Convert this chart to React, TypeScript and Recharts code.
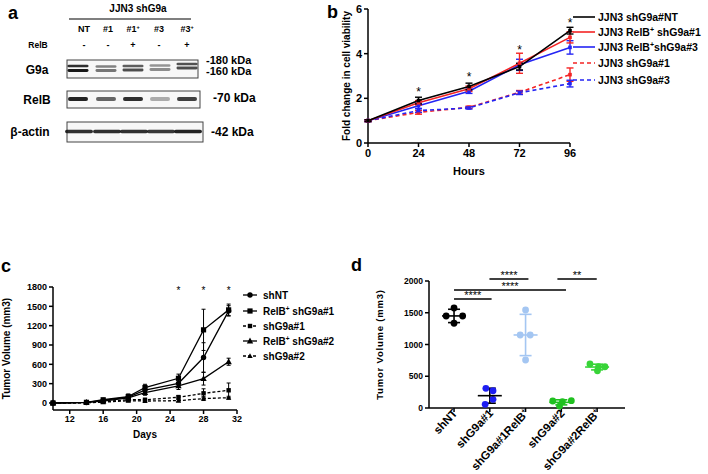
import React from 'react';
import { ComposedChart, Line, Scatter, XAxis, YAxis, ErrorBar, Legend, ReferenceLine, Label } from 'recharts';

const FONT = '"Liberation Sans", Arial, Helvetica, sans-serif';
const W = 708;
const H = 474;

// ---------------- Panel b : cell viability ----------------
const bHours = [0, 24, 48, 72, 96];
const bNT = [1, 1.9, 2.53, 3.42, 5.03];
const bNTErr = [0.04, 0.15, 0.15, 0.15, 0.15];
const bRelB1 = [1, 1.8, 2.43, 3.57, 4.73];
const bRelB1Err = [0.04, 0.1, 0.12, 0.45, 0.25];
const bRelB3 = [1, 1.67, 2.32, 3.5, 4.28];
const bRelB3Err = [0.04, 0.12, 0.1, 0.25, 0.3];
const bSh1 = [1, 1.37, 1.6, 2.27, 3.06];
const bSh1Err = [0.04, 0.08, 0.05, 0.08, 0.3];
const bSh3 = [1, 1.45, 1.57, 2.25, 2.66];
const bSh3Err = [0.04, 0.08, 0.05, 0.08, 0.15];
const bStarHours = [24, 48, 72, 96];
const bStarY = [2.4, 3.09, 4.31, 5.48];
const bXTicks = [0, 24, 48, 72, 96];
const bYTicks = [0, 2, 4, 6];
const bLabels = ['JJN3 shG9a#NT', 'JJN3 RelB+ shG9a#1', 'JJN3 RelB+shG9a#3', 'JJN3 shG9a#1', 'JJN3 shG9a#3'];
const bColors = ['#000000', '#f42424', '#2424f4', '#f42424', '#2424f4'];
const bDashed = [false, false, false, true, true];

// ---------------- Panel c : tumour growth ----------------
const cDays = [10, 14, 16, 19, 21, 25, 28, 31];
const cShNT = [0, 8, 40, 90, 200, 305, 705, 1430];
const cShNTErr = [0, 5, 15, 30, 45, 55, 230, 80];
const cRelB1 = [0, 10, 50, 100, 240, 383, 1135, 1445];
const cRelB1Err = [0, 5, 15, 40, 50, 65, 320, 90];
const cSh1 = [0, 5, 18, 50, 50, 88, 150, 197];
const cSh1Err = [0, 3, 8, 20, 20, 30, 70, 113];
const cRelB2 = [0, 8, 30, 80, 160, 264, 378, 640];
const cRelB2Err = [0, 5, 10, 30, 40, 55, 100, 55];
const cSh2 = [0, 4, 12, 35, 30, 36, 68, 82];
const cSh2Err = [0, 3, 6, 15, 15, 15, 30, 22];
const cStarDays = [25, 28, 31];
const cStarY = [1780, 1780, 1780];
const cXTicks = [12, 16, 20, 24, 28, 32];
const cYTicks = [0, 300, 600, 900, 1200, 1500, 1800];
const cLabels = ['shNT', 'RelB+ shG9a#1', 'shG9a#1', 'RelB+ shG9a#2', 'shG9a#2'];
const cMarkers = ['circle', 'square', 'smallSquare', 'triangle', 'smallTriangle'];
const cDashed = [false, false, true, false, true];

// ---------------- Panel d : final tumour volume ----------------
const dCats = ['shNT', 'shG9a#1', 'shG9a#1RelB+', 'shG9a#2', 'shG9a#2RelB+'];
const dColors = ['#000000', '#1e1ef2', '#a4c6f2', '#20c020', '#38d438'];
const dMeanColors = ['#000000', '#000000', '#a4c6f2', '#20c020', '#38d438'];
const dValues = [
  [1575, 1449, 1449, 1335],
  [310, 272, 137, 58],
  [1543, 1150, 1150, 756],
  [110, 100, 115, 31],
  [693, 650, 587, 650],
];
const dJitter = [
  [0, -0.22, 0.24, 0],
  [-0.11, 0.09, 0.09, -0.13],
  [0, -0.15, 0.13, 0],
  [-0.24, 0.03, 0.28, -0.05],
  [-0.2, 0.04, 0.01, 0.22],
];
const dMeans = [1450, 194, 1150, 89, 645];
const dSD = [105, 118, 325, 40, 45];
const dYTicks = [0, 500, 1000, 1500, 2000];
const dSigFrom = [1.0, 1.0, 1.99, 3.89];
const dSigTo = [2.05, 4.13, 3.08, 4.99];
const dSigY = [1717, 1858, 2031, 2031];
const dSigText = ['****', '****', '****', '**'];

// ---------------- Panel a : western blot (image) ----------------
const aLaneX = [78, 106, 133, 160, 187];
const aLaneLabelX = [84, 108, 133, 159, 187];
const aLaneLabels = ['NT', '#1', '#1+', '#3', '#3+'];
const aRelBSigns = ['-', '-', '+', '-', '+'];
const aG9aUpperY = [66, 66.5, 66, 65.5, 64];
const aG9aLowerY = [70.5, 70.5, 70, 69.5, 68];
const aG9aUpper = [0.85, 0.5, 0.65, 0.42, 0.7];
const aG9aLower = [0.95, 0.55, 0.72, 0.45, 0.72];
const aRelB = [0.9, 0.62, 0.85, 0.32, 0.78];
const aActin = [0.85, 0.85, 0.85, 0.82, 0.9];

function supParts(text: string, supSize: number, shift = 4) {
  const parts = text.split('+');
  const out: any[] = [<tspan key="p0">{parts[0]}</tspan>];
  for (let i = 1; i < parts.length; i++) {
    out.push(
      <tspan key={'s' + i} dy={-shift} fontSize={supSize}>
        +
      </tspan>
    );
    if (parts[i] !== '') {
      out.push(
        <tspan key={'p' + i} dy={shift}>
          {parts[i]}
        </tspan>
      );
    }
  }
  return out;
}

const axisStyle = { stroke: '#000', strokeWidth: 1.5 };

// ---------- markers ----------
function markerEl(kind: string, cx: number, cy: number, key?: any) {
  switch (kind) {
    case 'circle':
      return <circle key={key} cx={cx} cy={cy} r={2.7} fill="#000" />;
    case 'square':
      return <rect key={key} x={cx - 2.6} y={cy - 2.6} width={5.2} height={5.2} fill="#000" />;
    case 'smallSquare':
      return <rect key={key} x={cx - 2.2} y={cy - 2.2} width={4.4} height={4.4} fill="#000" />;
    case 'triangle':
      return <polygon key={key} points={`${cx},${cy - 3.4} ${cx - 3.2},${cy + 2.4} ${cx + 3.2},${cy + 2.4}`} fill="#000" />;
    default:
      return <polygon key={key} points={`${cx},${cy - 2.8} ${cx - 2.7},${cy + 2} ${cx + 2.7},${cy + 2}`} fill="#000" />;
  }
}

const cDot = (kind: string) => (props: any) => {
  const { cx, cy, index } = props;
  if (cx == null || cy == null) return <g key={index} />;
  return markerEl(kind, cx, cy, index);
};

const bDot = (color: string) => (props: any) => {
  const { cx, cy, index } = props;
  if (cx == null || cy == null) return <g key={index} />;
  return <rect key={index} x={cx - 1.8} y={cy - 1.8} width={3.6} height={3.6} fill={color} />;
};

const starShape = (fs: number) => (props: any) => (
  <text x={props.cx} y={props.cy + fs * 0.57} textAnchor="middle" fontSize={fs} fontFamily={FONT} fill="#000">
    *
  </text>
);

// ---------- legends ----------
const BLegend = () => (
  <svg width={140} height={84} style={{ overflow: 'visible' }}>
    {bLabels.map((lab, i) => {
      const y = 10 + [0, 15, 30, 46, 63][i];
      return (
        <g key={lab}>
          <line x1={3} x2={25} y1={y} y2={y} stroke={bColors[i]} strokeWidth={1.6} strokeDasharray={bDashed[i] ? '4 3' : undefined} />
          <text x={28} y={y + 3.7} fontSize={10.5} fontWeight="bold" fontFamily={FONT} fill="#000">
            {supParts(lab, 7, 4)}
          </text>
        </g>
      );
    })}
  </svg>
);

const CLegend = () => (
  <svg width={120} height={80} style={{ overflow: 'visible' }}>
    {cLabels.map((lab, i) => {
      const y = 8 + [0, 16, 31, 46, 61][i];
      return (
        <g key={lab}>
          <line x1={1} x2={15} y1={y} y2={y} stroke="#000" strokeWidth={1.3} strokeDasharray={cDashed[i] ? '3 2' : undefined} />
          {markerEl(cMarkers[i], 8, y)}
          <text x={21} y={y + 3.5} fontSize={10} fontWeight="bold" fontFamily={FONT} fill="#000">
            {supParts(lab, 6.5, 4)}
          </text>
        </g>
      );
    })}
  </svg>
);

// ---------- panel b ----------
const bData = bHours.map((h, i) => ({
  h,
  nt: bNT[i],
  ntE: bNTErr[i],
  r1: bRelB1[i],
  r1E: bRelB1Err[i],
  r3: bRelB3[i],
  r3E: bRelB3Err[i],
  s1: bSh1[i],
  s1E: bSh1Err[i],
  s3: bSh3[i],
  s3E: bSh3Err[i],
}));
const bStars = bStarHours.map((h, i) => ({ h, star: bStarY[i] }));

const tickB = { fill: '#000', fontSize: 11, fontWeight: 'bold', fontFamily: FONT } as any;

function PanelB() {
  return (
    <ComposedChart width={W} height={H} data={bData} margin={{ top: 9, right: 138, bottom: 297, left: 338 }}>
      <XAxis
        dataKey="h"
        type="number"
        domain={[0, 96]}
        ticks={bXTicks}
        axisLine={axisStyle}
        tickLine={axisStyle}
        tickSize={4}
        tick={tickB}
        height={34}
      >
        <Label value="Hours" position="insideBottom" offset={2} fontSize={11} fontWeight="bold" fontFamily={FONT} fill="#000" />
      </XAxis>
      <YAxis
        type="number"
        domain={[0, 6]}
        ticks={bYTicks}
        axisLine={axisStyle}
        tickLine={axisStyle}
        tickSize={4}
        tick={tickB}
        width={30}
      >
        <Label
          value="Fold change in cell viability"
          angle={-90}
          position="insideLeft"
          offset={8}
          fontSize={10}
          fontWeight="bold"
          fontFamily={FONT}
          fill="#000"
          style={{ textAnchor: 'middle' }}
        />
      </YAxis>
      <Line dataKey="s1" stroke={bColors[3]} strokeWidth={1.6} strokeDasharray="4 3" dot={bDot(bColors[3])} isAnimationActive={false}>
        <ErrorBar dataKey="s1E" width={3.5} stroke={bColors[3]} strokeWidth={1.4} direction="y" />
      </Line>
      <Line dataKey="s3" stroke={bColors[4]} strokeWidth={1.6} strokeDasharray="4 3" dot={bDot(bColors[4])} isAnimationActive={false}>
        <ErrorBar dataKey="s3E" width={3.5} stroke={bColors[4]} strokeWidth={1.4} direction="y" />
      </Line>
      <Line dataKey="r3" stroke={bColors[2]} strokeWidth={1.6} dot={bDot(bColors[2])} isAnimationActive={false}>
        <ErrorBar dataKey="r3E" width={3.5} stroke={bColors[2]} strokeWidth={1.4} direction="y" />
      </Line>
      <Line dataKey="r1" stroke={bColors[1]} strokeWidth={1.6} dot={bDot(bColors[1])} isAnimationActive={false}>
        <ErrorBar dataKey="r1E" width={3.5} stroke={bColors[1]} strokeWidth={1.4} direction="y" />
      </Line>
      <Line dataKey="nt" stroke={bColors[0]} strokeWidth={1.6} dot={bDot(bColors[0])} isAnimationActive={false}>
        <ErrorBar dataKey="ntE" width={3.5} stroke={bColors[0]} strokeWidth={1.4} direction="y" />
      </Line>
      <Scatter data={bStars} dataKey="star" shape={starShape(12)} isAnimationActive={false} />
      <Legend
        layout="horizontal"
        align="center"
        verticalAlign="middle"
        content={() => <BLegend />}
        wrapperStyle={{ left: 570, top: 7, width: 138, height: 84 }}
      />
    </ComposedChart>
  );
}

// ---------- panel c ----------
const cData = cDays.map((d, i) => ({
  d,
  nt: cShNT[i],
  ntE: cShNTErr[i],
  r1: cRelB1[i],
  r1E: cRelB1Err[i],
  s1: cSh1[i],
  s1E: cSh1Err[i],
  r2: cRelB2[i],
  r2E: cRelB2Err[i],
  s2: cSh2[i],
  s2E: cSh2Err[i],
}));
const cStars = cStarDays.map((d, i) => ({ d, star: cStarY[i] }));
const tickC = { fill: '#000', fontSize: 9, fontWeight: 'bold', fontFamily: FONT } as any;

function PanelC() {
  const series = [
    { k: 's2', e: 's2E', m: 'smallTriangle', dash: true },
    { k: 's1', e: 's1E', m: 'smallSquare', dash: true },
    { k: 'r2', e: 'r2E', m: 'triangle', dash: false },
    { k: 'nt', e: 'ntE', m: 'circle', dash: false },
    { k: 'r1', e: 'r1E', m: 'square', dash: false },
  ];
  return (
    <ComposedChart width={W} height={H} data={cData} margin={{ top: 287, right: 471, bottom: 34, left: 1 }}>
      <XAxis
        dataKey="d"
        type="number"
        domain={[10, 32]}
        ticks={cXTicks}
        axisLine={axisStyle}
        tickLine={axisStyle}
        tickSize={4}
        tick={tickC}
        height={30}
      >
        <Label value="Days" position="insideBottom" offset={2} fontSize={10} fontWeight="bold" fontFamily={FONT} fill="#000" />
      </XAxis>
      <YAxis
        type="number"
        domain={[-109, 1800]}
        ticks={cYTicks}
        axisLine={axisStyle}
        tickLine={axisStyle}
        tickSize={4}
        tick={tickC}
        width={52}
      >
        <Label
          value="Tumor Volume (mm3)"
          angle={-90}
          position="insideLeft"
          offset={5}
          fontSize={10}
          fontWeight="bold"
          fontFamily={FONT}
          fill="#000"
          style={{ textAnchor: 'middle' }}
        />
      </YAxis>
      {series.map((s) => (
        <Line
          key={s.k}
          dataKey={s.k}
          stroke="#000"
          strokeWidth={1.3}
          strokeDasharray={s.dash ? '3 2' : undefined}
          dot={cDot(s.m)}
          isAnimationActive={false}
        >
          <ErrorBar dataKey={s.e} width={2} stroke="#000" strokeWidth={1} direction="y" />
        </Line>
      ))}
      <Scatter data={cStars} dataKey="star" shape={starShape(10)} isAnimationActive={false} />
      <Legend
        layout="horizontal"
        align="center"
        verticalAlign="middle"
        content={() => <CLegend />}
        wrapperStyle={{ left: 242, top: 287, width: 120, height: 80 }}
      />
    </ComposedChart>
  );
}

// ---------- panel d ----------
const tickD = { fill: '#000', fontSize: 8.5, fontWeight: 'bold', fontFamily: FONT } as any;

const DTick = (props: any) => {
  const { x, y, payload } = props;
  const i = Math.round(payload.value) - 1;
  return (
    <g transform={`translate(${x + 1},${y - 3})`}>
      <text transform="rotate(-47)" x={0} y={0} dy="0.35em" textAnchor="end" fontSize={11.5} fontWeight="bold" fontFamily={FONT} fill="#000">
        {supParts(dCats[i] || '', 7, 4.5)}
      </text>
    </g>
  );
};

const meanShape = (color: string) => (props: any) => (
  <line x1={props.cx - 12} x2={props.cx + 12} y1={props.cy} y2={props.cy} stroke={color} strokeWidth={1.6} />
);
const pointShape = (color: string) => (props: any) => <circle cx={props.cx} cy={props.cy} r={3.4} fill={color} />;

function PanelD() {
  return (
    <ComposedChart width={W} height={H} margin={{ top: 281, right: 83, bottom: 6, left: 375 }}>
      <XAxis
        dataKey="x"
        type="number"
        domain={[0.3, 5.78]}
        ticks={[1, 2, 3, 4, 5]}
        axisLine={axisStyle}
        tickLine={axisStyle}
        tickSize={4}
        tick={<DTick />}
        height={60}
        interval={0}
      />
      <YAxis
        type="number"
        domain={[0, 2000]}
        ticks={dYTicks}
        axisLine={axisStyle}
        tickLine={axisStyle}
        tickSize={4}
        tick={tickD}
        width={54}
      >
        <Label
          value="Tumor Volume (mm3)"
          angle={-90}
          position="insideLeft"
          offset={5}
          fontSize={9.5}
          fontWeight="bold"
          fontFamily={FONT}
          fill="#000"
          letterSpacing={0.8}
          style={{ textAnchor: 'middle' }}
        />
      </YAxis>
      {dValues.map((vals, g) => (
        <Scatter
          key={'pts' + g}
          data={vals.map((v, j) => ({ x: g + 1 + dJitter[g][j], y: v }))}
          dataKey="y"
          shape={pointShape(dColors[g])}
          isAnimationActive={false}
        />
      ))}
      {dMeans.map((m, g) => (
        <Scatter
          key={'mean' + g}
          data={[{ x: g + 1, y: m, sd: dSD[g] }]}
          dataKey="y"
          shape={meanShape(dMeanColors[g])}
          isAnimationActive={false}
        >
          <ErrorBar dataKey="sd" direction="y" width={6} stroke={dMeanColors[g]} strokeWidth={1.6} />
        </Scatter>
      ))}
      {dSigY.map((yv, i) => (
        <ReferenceLine
          key={'sig' + i}
          segment={[
            { x: dSigFrom[i], y: yv },
            { x: dSigTo[i], y: yv },
          ]}
          stroke="#000"
          strokeWidth={1.6}
          ifOverflow="visible"
          label={{ value: dSigText[i], position: 'top', offset: 0, fontSize: 11, fontFamily: FONT, fill: '#000' }}
        />
      ))}
    </ComposedChart>
  );
}

// ---------- panel a (western blot picture) & panel letters ----------
function Band({ x, y, w, h, o }: { x: number; y: number; w: number; h: number; o: number }) {
  return <rect x={x - w / 2} y={y - h / 2} width={w} height={h} rx={h / 2} fill="#101010" opacity={o} filter="url(#blotBlur)" />;
}

function Overlay() {
  const bold = { fontFamily: FONT, fontWeight: 'bold' as const, fill: '#000' };
  return (
    <svg width={W} height={H} style={{ position: 'absolute', left: 0, top: 0, pointerEvents: 'none' }}>
      <defs>
        <filter id="blotBlur" x="-20%" y="-100%" width="140%" height="300%">
          <feGaussianBlur stdDeviation="0.7" />
        </filter>
      </defs>
      {/* panel letters */}
      <text x={8} y={19} fontSize={18} {...bold}>a</text>
      <text x={327} y={18} fontSize={18} {...bold}>b</text>
      <text x={1} y={272} fontSize={18} {...bold}>c</text>
      <text x={351} y={271} fontSize={18} {...bold}>d</text>

      {/* blot header */}
      <text x={138} y={12} fontSize={10} textAnchor="middle" {...bold}>JJN3 shG9a</text>
      <line x1={69} x2={191} y1={19} y2={19} stroke="#000" strokeWidth={1.2} />
      {aLaneLabels.map((l, i) => (
        <text key={l} x={aLaneLabelX[i]} y={32} fontSize={9} textAnchor="middle" {...bold}>
          {supParts(l, 5.5, 3)}
        </text>
      ))}
      <text x={38} y={48} fontSize={8.5} textAnchor="middle" {...bold}>RelB</text>
      {aRelBSigns.map((s, i) => (
        <text key={i} x={aLaneLabelX[i]} y={48} fontSize={9} textAnchor="middle" {...bold}>{s}</text>
      ))}

      {/* row labels */}
      <text x={37} y={74} fontSize={12} textAnchor="middle" {...bold}>G9a</text>
      <text x={37} y={104} fontSize={12} textAnchor="middle" {...bold}>RelB</text>
      <text x={30} y={136} fontSize={12} textAnchor="middle" {...bold}>β-actin</text>

      {/* boxes */}
      <rect x={67} y={60} width={131} height={18} fill="#f7f7f7" stroke="#444" strokeWidth={1} />
      <rect x={67} y={91} width={133} height={17} fill="#f7f7f7" stroke="#444" strokeWidth={1} />
      <rect x={67} y={122} width={136} height={20} fill="#f7f7f7" stroke="#444" strokeWidth={1} />

      {aLaneX.map((x, i) => (
        <g key={'g' + i}>
          <Band x={x} y={aG9aUpperY[i]} w={21} h={2.6} o={aG9aUpper[i]} />
          <Band x={x} y={aG9aLowerY[i]} w={21} h={2.8} o={aG9aLower[i]} />
          <Band x={x} y={99} w={20} h={3.8} o={aRelB[i]} />
          <Band x={x + 1} y={131.5} w={28} h={3.6} o={aActin[i]} />
        </g>
      ))}

      {/* kDa markers */}
      <text x={206} y={64} fontSize={11} {...bold}>-180 kDa</text>
      <text x={206} y={74.5} fontSize={11} {...bold}>-160 kDa</text>
      <text x={213} y={102} fontSize={12} {...bold}>-70 kDa</text>
      <text x={211} y={136} fontSize={12} {...bold}>-42 kDa</text>
    </svg>
  );
}

export default function App() {
  const layer: React.CSSProperties = { position: 'absolute', left: 0, top: 0, width: W, height: H };
  return (
    <div style={{ position: 'absolute', left: 0, top: 0, width: W, height: H, background: '#fff', overflow: 'hidden', fontFamily: FONT }}>
      <div style={layer}>
        <PanelB />
      </div>
      <div style={layer}>
        <PanelC />
      </div>
      <div style={layer}>
        <PanelD />
      </div>
      <Overlay />
    </div>
  );
}
